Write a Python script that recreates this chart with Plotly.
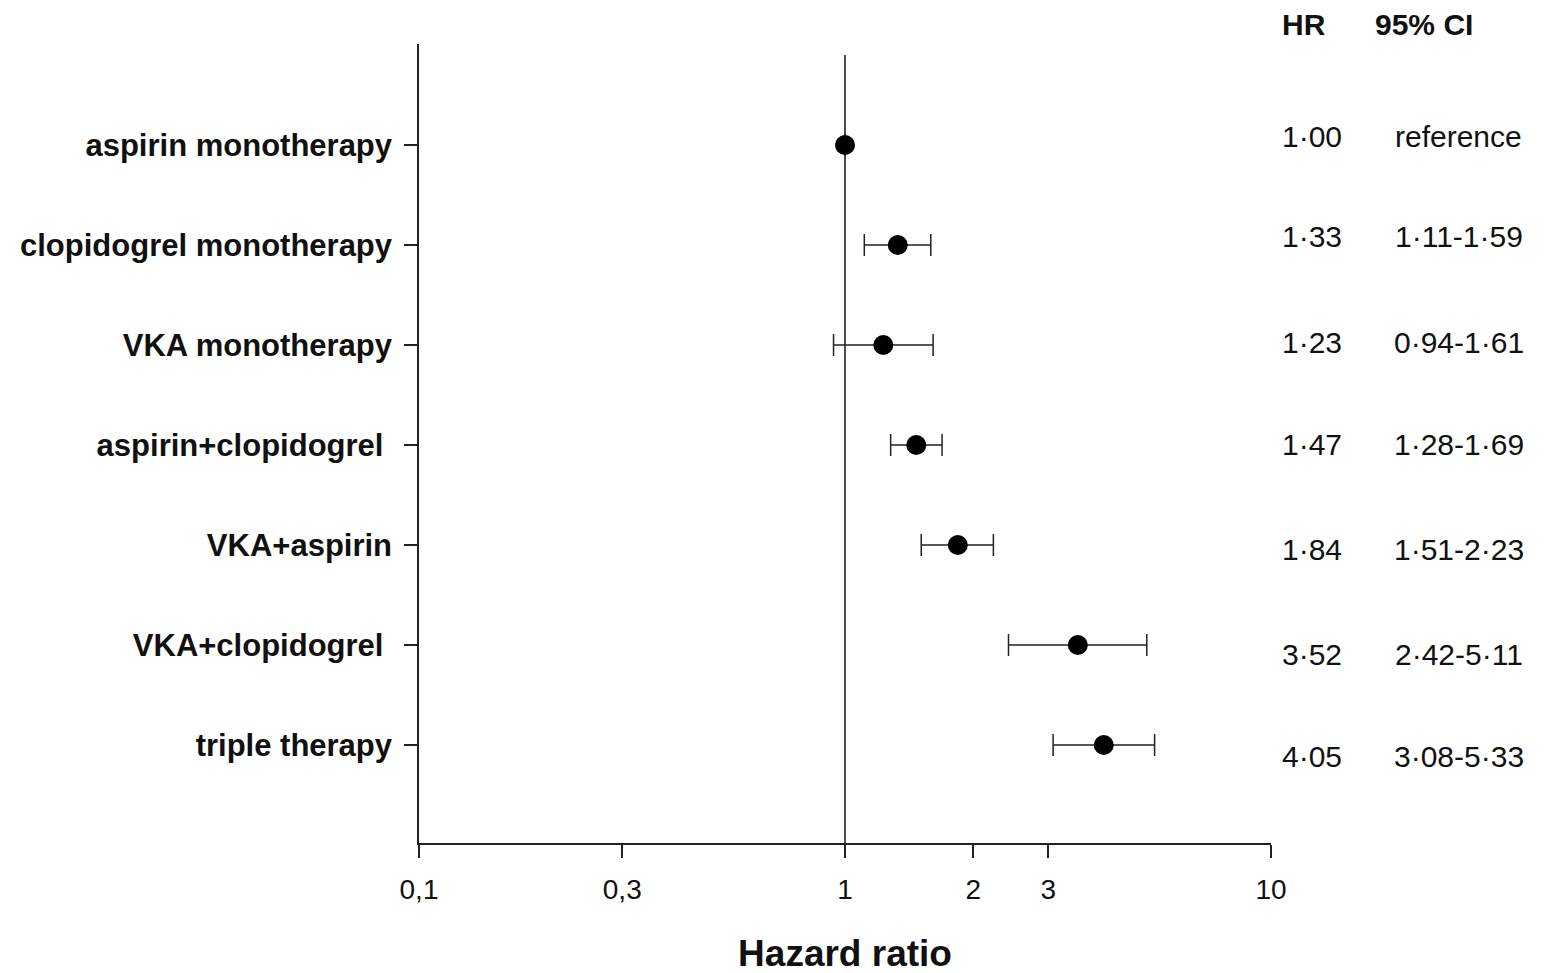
import plotly.graph_objects as go

categories = ["aspirin monotherapy", "clopidogrel monotherapy", "VKA monotherapy",
              "aspirin+clopidogrel\u00a0", "VKA+aspirin", "VKA+clopidogrel\u00a0", "triple therapy"]
hr = [1.00, 1.33, 1.23, 1.47, 1.84, 3.52, 4.05]
ci_low = [None, 1.11, 0.94, 1.28, 1.51, 2.42, 3.08]
ci_high = [None, 1.59, 1.61, 1.69, 2.23, 5.11, 5.33]
hr_text = ["1·00", "1·33", "1·23", "1·47", "1·84", "3·52", "4·05"]
ci_text = ["reference", "1·11-1·59", "0·94-1·61", "1·28-1·69", "1·51-2·23", "2·42-5·11", "3·08-5·33"]
x_tickvals = [0.1, 0.3, 1, 2, 3, 10]
x_ticktext = ["0,1", "0,3", "1", "2", "3", "10"]
ref_hr = 1.0

rows = list(range(len(categories)))
err_plus = [(hi - h) if hi is not None else 0 for h, hi in zip(hr, ci_high)]
err_minus = [(h - lo) if lo is not None else 0 for h, lo in zip(hr, ci_low)]

FONT = "Liberation Sans, Arial, sans-serif"
INK = "#111111"

fig = go.Figure()

# reference line at HR = 1
fig.add_trace(go.Scatter(x=[ref_hr, ref_hr], y=[-0.9, len(categories) - 0.02],
                         mode="lines", line=dict(color="#222222", width=1.6),
                         hoverinfo="skip", showlegend=False))

fig.add_trace(go.Scatter(
    x=hr, y=rows, mode="markers",
    marker=dict(color="black", size=20),
    error_x=dict(type="data", symmetric=False, array=err_plus, arrayminus=err_minus,
                 color="#222222", thickness=1.5, width=11),
    showlegend=False))

# text offsets (layout only)
text_dy = [-0.09, -0.09, -0.03, -0.01, 0.04, 0.09, 0.11]
for i in rows:
    fig.add_annotation(x=1.0105, xref="paper", y=i + text_dy[i], yref="y",
                       text=hr_text[i], showarrow=False, xanchor="left", yanchor="middle",
                       font=dict(family=FONT, size=30, color=INK))
    fig.add_annotation(x=1.2203, xref="paper", y=i + text_dy[i], yref="y",
                       text=ci_text[i], showarrow=False, xanchor="center", yanchor="middle",
                       font=dict(family=FONT, size=30, color=INK))

fig.add_annotation(x=1.0105, xref="paper", y=1.0238, yref="paper", text="HR",
                   showarrow=False, xanchor="left", yanchor="middle",
                   font=dict(family=FONT, size=30, color=INK, weight="bold"))
fig.add_annotation(x=1.1795, xref="paper", y=1.0238, yref="paper", text="95% CI",
                   showarrow=False, xanchor="center", yanchor="middle",
                   font=dict(family=FONT, size=30, color=INK, weight="bold"))

fig.update_layout(
    width=1547, height=973,
    margin=dict(l=405, r=284, t=36, b=138),
    paper_bgcolor="white", plot_bgcolor="white",
    font=dict(family=FONT, color=INK),
    xaxis=dict(type="log", range=[-1, 1], tickvals=x_tickvals, ticktext=x_ticktext,
               ticks="outside", ticklen=13, tickwidth=1.5, tickcolor="#222222",
               showline=True, linecolor="#222222", linewidth=1.5,
               showgrid=False, zeroline=False, ticklabelstandoff=8,
               tickfont=dict(family=FONT, size=28, color=INK),
               title=dict(text="Hazard ratio", standoff=36,
                          font=dict(family=FONT, size=37, color=INK, weight="bold"))),
    yaxis=dict(range=[6.98, -1.01], tickvals=rows, ticktext=categories,
               ticks="outside", ticklen=13, tickwidth=1.5, tickcolor="#222222",
               showline=True, linecolor="#222222", linewidth=1.5,
               showgrid=False, zeroline=False, ticklabelstandoff=6,
               tickfont=dict(family=FONT, size=31, color=INK, weight="bold")),
)

fig.write_html("out.html")
